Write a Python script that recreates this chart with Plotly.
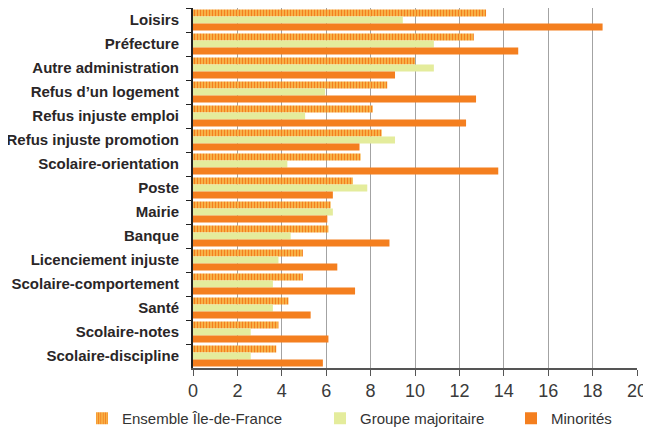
import plotly.graph_objects as go

# Catégories (du haut vers le bas)
categories = [
    "Loisirs", "Préfecture", "Autre administration", "Refus d’un logement",
    "Refus injuste emploi", "Refus injuste promotion", "Scolaire-orientation",
    "Poste", "Mairie", "Banque", "Licenciement injuste",
    "Scolaire-comportement", "Santé", "Scolaire-notes", "Scolaire-discipline",
]

ensemble_idf = [13.2, 12.65, 10.0, 8.75, 8.1, 8.5, 7.55, 7.2, 6.2, 6.1, 4.95, 4.95, 4.3, 3.85, 3.75]
groupe_majoritaire = [9.45, 10.85, 10.85, 5.95, 5.05, 9.1, 4.25, 7.85, 6.3, 4.4, 3.85, 3.6, 3.6, 2.6, 2.6]
minorites = [18.45, 14.65, 9.1, 12.75, 12.3, 7.5, 13.75, 6.3, 6.05, 8.85, 6.5, 7.3, 5.3, 6.1, 5.85]

x_ticks = [0, 2, 4, 6, 8, 10, 12, 14, 16, 18, 20]

ORANGE = "#f47f1f"
HATCH_BG = "#f9c95a"
VERT_PALE = "#e4ec9c"
TEXT = "#2a2627"
LEGEND_FONT = dict(size=15, color="#333333", family="Liberation Sans")

# la page HTML ajoute une marge de 8 px autour de la figure
W, H = 643, 422

fig = go.Figure()
fig.add_trace(go.Bar(
    y=categories, x=ensemble_idf, orientation="h", name="Ensemble Île-de-France",
    legend="legend",
    marker=dict(color=HATCH_BG, line=dict(width=0),
                pattern=dict(shape="|", fgcolor=ORANGE, bgcolor=HATCH_BG,
                             size=3, solidity=0.55, fillmode="replace")),
))
fig.add_trace(go.Bar(
    y=categories, x=groupe_majoritaire, orientation="h", name="Groupe majoritaire",
    legend="legend2",
    marker=dict(color=VERT_PALE, line=dict(width=0)),
))
fig.add_trace(go.Bar(
    y=categories, x=minorites, orientation="h", name="Minorités",
    legend="legend3",
    marker=dict(color=ORANGE, line=dict(width=0)),
))


def legend_at(x_px):
    return dict(
        xref="container", yref="container",
        x=x_px / W, y=1 - 394 / H, xanchor="left", yanchor="top",
        font=LEGEND_FONT, bgcolor="rgba(0,0,0,0)", itemwidth=30,
    )


fig.update_layout(
    width=W, height=H,
    barmode="group", bargap=0.12, bargroupgap=0,
    paper_bgcolor="white", plot_bgcolor="white",
    margin=dict(l=185, r=14, t=0, b=62, autoexpand=False),
    font=dict(family="Liberation Sans", color=TEXT),
    showlegend=True,
    legend=legend_at(74),
    legend2=legend_at(312),
    legend3=legend_at(503),
    xaxis=dict(
        range=[0, 20], tickvals=x_ticks, showgrid=True, gridcolor="#a3a3a3", gridwidth=1,
        showline=True, linecolor="#555555", linewidth=1.5,
        ticks="outside", ticklen=6, tickcolor="#555555",
        tickfont=dict(size=18, color="#3a3a3a", family="Liberation Sans"),
        ticklabeloverflow="allow",
        zeroline=False, automargin=False,
    ),
    yaxis=dict(
        autorange="reversed", showline=True, linecolor="#222222", linewidth=2,
        ticks="outside", ticklen=5, tickcolor="#222222", tickson="boundaries",
        tickfont=dict(size=15, color=TEXT, family="Liberation Sans", weight="bold"),
        ticklabelstandoff=9, automargin=False,
    ),
)

fig.write_html("out.html")
